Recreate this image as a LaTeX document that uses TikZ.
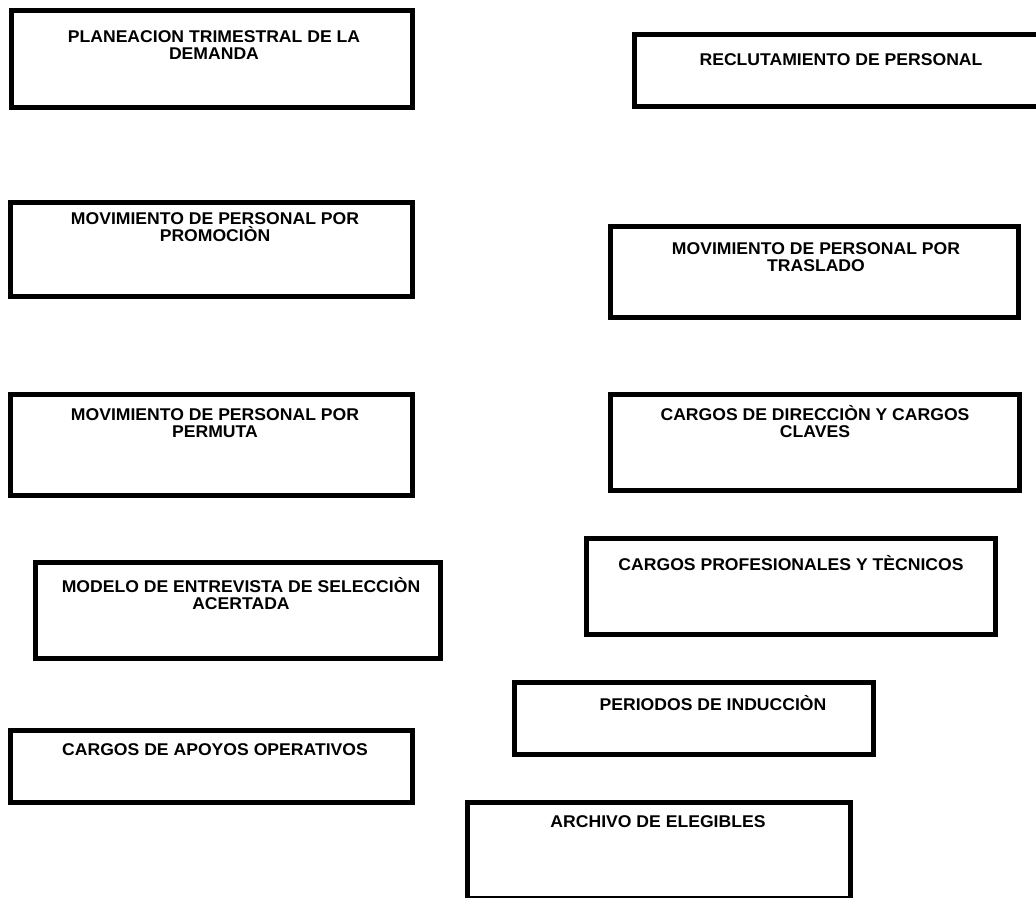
\documentclass[tikz,border=0pt]{standalone}
\usepackage{fontspec}
\setmainfont{Liberation Sans}[FakeStretch=1.035]
\begin{document}
\begin{tikzpicture}[x=1pt,y=-1pt,
  boxed/.style={draw=black, line width=4.8pt, rectangle, inner sep=0pt, outer sep=0pt},
  caption/.style={anchor=base, inner sep=0pt, font=\fontsize{17}{17}\selectfont\bfseries}]
% page frame
\fill[white] (0,0) rectangle (1036,897);
\useasboundingbox (0,0) rectangle (1036,897);
\clip (0,0) rectangle (1036,897);

% boxes
\node[boxed, minimum width=401.2pt, minimum height=97.2pt] (b1)  at (212,59)      {};
\node[boxed, minimum width=413.2pt, minimum height=72.2pt] (b2)  at (841,70.5)    {};
\node[boxed, minimum width=402.2pt, minimum height=94.2pt] (b3)  at (211.5,249.5) {};
\node[boxed, minimum width=408.2pt, minimum height=91.2pt] (b4)  at (814.5,272)   {};
\node[boxed, minimum width=402.2pt, minimum height=101.2pt] (b5) at (211.5,445)   {};
\node[boxed, minimum width=409.2pt, minimum height=96.2pt] (b6)  at (815,442.5)   {};
\node[boxed, minimum width=405.2pt, minimum height=96.2pt] (b7)  at (238,610.5)   {};
\node[boxed, minimum width=409.2pt, minimum height=96.2pt] (b8)  at (791,586.5)   {};
\node[boxed, minimum width=359.2pt, minimum height=72.2pt] (b9)  at (694,718.5)   {};
\node[boxed, minimum width=402.2pt, minimum height=72.2pt] (b10) at (211.5,766.5) {};
\node[boxed, minimum width=383.2pt, minimum height=96.2pt] (b11) at (659,850.5)   {};

% captions
\node[caption] (t1a) at (214,42.2) {PLANEACION TRIMESTRAL DE LA};
\node[caption] (t1b) at (214,59.2) {DEMANDA};
\node[caption] (t2)  at (841,65.2) {RECLUTAMIENTO DE PERSONAL};
\node[caption] (t3a) at (215,224.2) {MOVIMIENTO DE PERSONAL POR};
\node[caption] (t3b) at (215,241.2) {PROMOCIÒN};
\node[caption] (t4a) at (816,254.2) {MOVIMIENTO DE PERSONAL POR};
\node[caption] (t4b) at (816,271.2) {TRASLADO};
\node[caption] (t5a) at (215,420.2) {MOVIMIENTO DE PERSONAL POR};
\node[caption] (t5b) at (215,437.2) {PERMUTA};
\node[caption] (t6a) at (815,420.2) {CARGOS DE DIRECCIÒN Y CARGOS};
\node[caption] (t6b) at (815,437.2) {CLAVES};
\node[caption] (t7a) at (241,592.2) {MODELO DE ENTREVISTA DE SELECCIÒN};
\node[caption] (t7b) at (241,609.2) {ACERTADA};
\node[caption] (t8)  at (791,570.2) {CARGOS PROFESIONALES Y TÈCNICOS};
\node[caption] (t9)  at (713,710.2) {PERIODOS DE INDUCCIÒN};
\node[caption] (t10) at (215,755.2) {CARGOS DE APOYOS OPERATIVOS};
\node[caption] (t11) at (658,827.2) {ARCHIVO DE ELEGIBLES};
\end{tikzpicture}
\end{document}
